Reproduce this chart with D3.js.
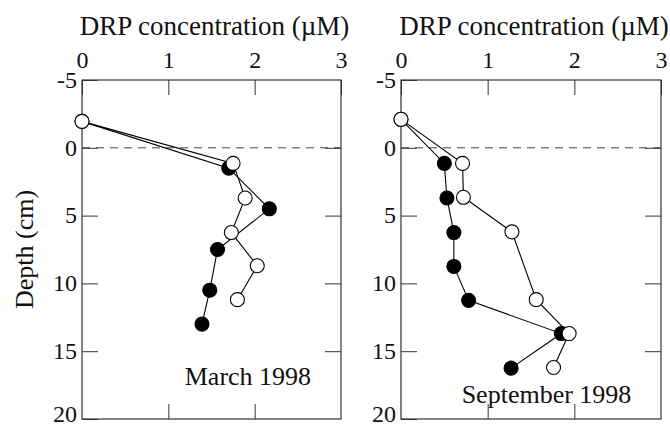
<!DOCTYPE html>
<html>
<head>
<meta charset="utf-8">
<script src="https://cdn.jsdelivr.net/npm/d3@7"></script>
<style>
  body { margin: 0; background: #fff; }
  text { font-family: "Liberation Serif", "Times New Roman", serif; fill: #111; }
</style>
</head>
<body>
<div id="chart"></div>
<script>
// data: DRP (uM) against depth (cm)
const X_TICKS = [0, 1, 2, 3];
const Y_TICKS = [-5, 0, 5, 10, 15, 20];

const MARCH_OPEN_CONC = [0, 1.75, 1.89, 1.73, 2.03, 1.80];
const MARCH_OPEN_DEPTH = [-1.95, 1.15, 3.7, 6.25, 8.7, 11.2];
const MARCH_FILLED_CONC = [0, 1.70, 2.17, 1.57, 1.48, 1.39];
const MARCH_FILLED_DEPTH = [-1.95, 1.5, 4.5, 7.5, 10.5, 13.0];

const SEPT_OPEN_CONC = [0, 0.71, 0.72, 1.28, 1.56, 1.94, 1.76];
const SEPT_OPEN_DEPTH = [-2.1, 1.15, 3.65, 6.2, 11.2, 13.7, 16.2];
const SEPT_FILLED_CONC = [0, 0.50, 0.53, 0.61, 0.61, 0.78, 1.85, 1.27];
const SEPT_FILLED_DEPTH = [-2.1, 1.15, 3.7, 6.25, 8.75, 11.25, 13.7, 16.25];

const TITLE = "DRP concentration (\u00b5M)";
const Y_TITLE = "Depth (cm)";

// frame
const FRAME_WIDTH = 670;
const FRAME_HEIGHT = 427;
const TOP = 80, BOTTOM = 419;

const svg = d3.select("#chart")
  .append("svg")
    .attr("width", FRAME_WIDTH)
    .attr("height", FRAME_HEIGHT);

const zip = (xs, ys) => xs.map((v, i) => ({conc: v, depth: ys[i]}));
// plain hyphen for negatives, like the original
const plain = (d) => String(d);

const panels = [
  {left: 82, right: 341, label: "March 1998", labelAt: [1.19, 17.5],
   open: zip(MARCH_OPEN_CONC, MARCH_OPEN_DEPTH),
   filled: zip(MARCH_FILLED_CONC, MARCH_FILLED_DEPTH)},
  {left: 401, right: 661, label: "September 1998", labelAt: [0.70, 18.8],
   open: zip(SEPT_OPEN_CONC, SEPT_OPEN_DEPTH),
   filled: zip(SEPT_FILLED_CONC, SEPT_FILLED_DEPTH)}
];

panels.forEach((p) => {
  const x = d3.scaleLinear().domain([0, 3]).range([p.left, p.right]);
  const y = d3.scaleLinear().domain([-5, 20]).range([TOP, BOTTOM]);
  const g = svg.append("g");

  // top axis with labels, ticks pointing inward
  g.append("g")
    .attr("transform", "translate(0," + TOP + ")")
    .call(d3.axisTop(x).tickValues(X_TICKS).tickSize(-15).tickPadding(12).tickFormat(plain))
    .call((a) => a.select(".domain").remove())
    .selectAll("text").attr("font-size", 24).attr("font-family", "Liberation Serif").attr("fill", "#111");

  g.append("g")
    .attr("transform", "translate(0," + BOTTOM + ")")
    .call(d3.axisBottom(x).tickValues([1, 2]).tickSize(-15).tickFormat(""))
    .call((a) => a.select(".domain").remove());

  g.append("g")
    .attr("transform", "translate(" + p.left + ",0)")
    .call(d3.axisLeft(y).tickValues(Y_TICKS).tickSize(-16).tickPadding(5).tickFormat(plain))
    .call((a) => a.select(".domain").remove())
    .selectAll("text").attr("font-size", 24)
      .attr("dy", (d) => d === 20 ? "0.1em" : "0.3em")   // keep bottom label inside the frame
      .attr("font-family", "Liberation Serif").attr("fill", "#111");

  g.append("g")
    .attr("transform", "translate(" + p.right + ",0)")
    .call(d3.axisRight(y).tickValues([0, 5, 10, 15]).tickSize(-16).tickFormat(""))
    .call((a) => a.select(".domain").remove());

  g.selectAll(".tick line").attr("stroke", "#333");

  // frame
  g.append("rect")
    .attr("x", p.left).attr("y", TOP)
    .attr("width", p.right - p.left).attr("height", BOTTOM - TOP)
    .attr("fill", "none").attr("stroke", "#333").attr("stroke-width", 1.2);

  // sediment surface
  g.append("line")
    .attr("x1", p.left).attr("x2", p.right)
    .attr("y1", y(0)).attr("y2", y(0))
    .attr("stroke", "#444").attr("stroke-dasharray", "8,6");

  // titles
  g.append("text")
    .attr("x", (p.left + p.right) / 2 + 3).attr("y", 35)
    .attr("text-anchor", "middle").attr("font-size", 27)
    .text(TITLE);

  g.append("text")
    .attr("x", x(p.labelAt[0])).attr("y", y(p.labelAt[1]))
    .attr("font-size", 26)
    .text(p.label);

  const line = d3.line().x((d) => x(d.conc)).y((d) => y(d.depth));

  // filled series first, open on top
  ["filled", "open"].forEach((key) => {
    g.append("path")
      .datum(p[key])
      .attr("fill", "none").attr("stroke", "#000").attr("stroke-width", 1.1)
      .attr("d", line);
  });
  [["filled", "#000"], ["open", "#fff"]].forEach(([key, fill]) => {
    g.append("g")
      .selectAll("circle")
      .data(p[key])
      .enter()
      .append("circle")
        .attr("cx", (d) => x(d.conc))
        .attr("cy", (d) => y(d.depth))
        .attr("r", 7)
        .attr("fill", fill)
        .attr("stroke", "#000").attr("stroke-width", 1.1);
  });
});

// shared y axis title
svg.append("text")
  .attr("transform", "translate(33," + (TOP + BOTTOM) / 2 + ") rotate(-90)")
  .attr("text-anchor", "middle").attr("font-size", 26)
  .text(Y_TITLE);
</script>
</body>
</html>
